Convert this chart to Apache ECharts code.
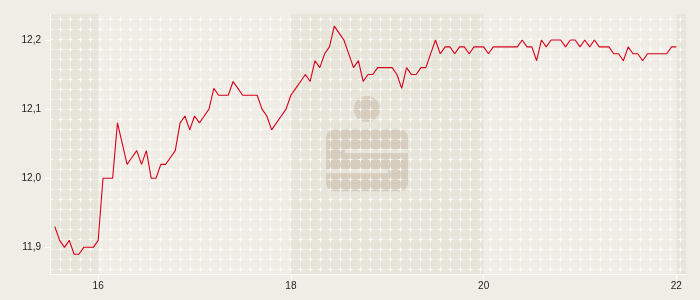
<!DOCTYPE html>
<html><head><meta charset="utf-8">
<script src="https://cdn.jsdelivr.net/npm/echarts@6/dist/echarts.min.js"></script>
<style>html,body{margin:0;padding:0;background:#f0ede6}#c{width:700px;height:300px}</style>
</head><body><div id="c"></div>
<script>
// time axis in hours (3-minute quotes starting 15:33)
const startHour = 15.55;
const stepHours = 0.05;
const prices = [
 11.93,11.91,11.90,11.91,11.89,11.89,11.90,11.90,11.90,11.91,
 12.00,12.00,12.00,12.08,12.05,12.02,12.03,12.04,12.02,12.04,
 12.00,12.00,12.02,12.02,12.03,12.04,12.08,12.09,12.07,12.09,
 12.08,12.09,12.10,12.13,12.12,12.12,12.12,12.14,12.13,12.12,
 12.12,12.12,12.12,12.10,12.09,12.07,12.08,12.09,12.10,12.12,
 12.13,12.14,12.15,12.14,12.17,12.16,12.18,12.19,12.22,12.21,
 12.20,12.18,12.16,12.17,12.14,12.15,12.15,12.16,12.16,12.16,
 12.16,12.15,12.13,12.16,12.15,12.15,12.16,12.16,12.18,12.20,
 12.18,12.19,12.19,12.18,12.19,12.19,12.18,12.19,12.19,12.19,
 12.18,12.19,12.19,12.19,12.19,12.19,12.19,12.20,12.19,12.19,
 12.17,12.20,12.19,12.20,12.20,12.20,12.19,12.20,12.20,12.19,
 12.20,12.19,12.20,12.19,12.19,12.19,12.18,12.18,12.17,12.19,
 12.18,12.18,12.17,12.18,12.18,12.18,12.18,12.18,12.19,12.19
];
const xTicks = [16, 18, 20, 22];
const yTicks = [11.9, 12.0, 12.1, 12.2];
const xRange = [15.5, 22.1];
const yRange = [11.8614, 12.2376];
const shadedBands = [[15.5, 16], [18, 20], [22, 22.1]];

const seriesData = prices.map((p, i) => [startHour + i * stepHours, p]);

const BG = '#f0ede6', BAND = '#e7e4d9', LOGO = '#d6cdbf', RED = '#d6001a';

const chart = echarts.init(document.getElementById('c'), null, {renderer: 'canvas'});
chart.setOption({
  animation: false,
  backgroundColor: BG,
  grid: {left: 50, right: 14, top: 14, bottom: 26, containLabel: false},
  xAxis: {
    type: 'value', min: xRange[0], max: xRange[1], z: 5,
    axisLine: {show: true, lineStyle: {color: '#ffffff', width: 1}},
    axisTick: {show: true, length: 5, lineStyle: {color: '#ffffff'}, customValues: xTicks},
    axisLabel: {customValues: xTicks, color: '#222', fontSize: 10, fontFamily: 'Liberation Sans, Arial, sans-serif', margin: 7,
      formatter: v => String(Math.round(v))},
    splitLine: {show: false}
  },
  yAxis: {
    type: 'value', min: yRange[0], max: yRange[1], z: 5,
    axisLine: {show: true, lineStyle: {color: '#ffffff', width: 1}},
    axisTick: {show: true, length: 5, lineStyle: {color: '#ffffff'}, customValues: yTicks},
    axisLabel: {customValues: yTicks, color: '#222', fontSize: 10, fontFamily: 'Liberation Sans, Arial, sans-serif', margin: 9,
      formatter: v => v.toFixed(1).replace('.', ',')},
    splitLine: {show: false}
  },
  series: [{
    type: 'line', z: 10, data: seriesData, showSymbol: false, symbol: 'none',
    lineStyle: {color: RED, width: 1.1}, itemStyle: {color: RED}
  }]
});

// background decorations
const px = v => chart.convertToPixel({xAxisIndex: 0}, v);
const py = v => chart.convertToPixel({yAxisIndex: 0}, v);
const gx0 = px(xRange[0]), gx1 = px(xRange[1]);
const gy0 = py(yRange[1]), gy1 = py(yRange[0]);

const tile = document.createElement('canvas');
tile.width = 10; tile.height = 10;
const g = tile.getContext('2d');
g.fillStyle = 'rgba(255,255,255,0.2)';
g.fillRect(0, 0, 1, 10);
g.fillRect(1, 9, 9, 1);
const put = (a, b, c) => { g.clearRect(a, b, 1, 1); g.fillStyle = c; g.fillRect(a, b, 1, 1); };
[[9,9],[0,9],[1,9],[0,8],[0,0]].forEach(([a,b]) => put(a, b, 'rgba(255,255,255,0.95)'));
[[8,9],[2,9],[0,7],[0,1]].forEach(([a,b]) => put(a, b, 'rgba(255,255,255,0.55)'));

const elements = [];
shadedBands.forEach(([a, b]) => {
  elements.push({type: 'rect', z: 0, silent: true,
    shape: {x: px(a), y: gy0, width: px(b) - px(a), height: gy1 - gy0},
    style: {fill: BAND}});
});
const cx = (gx0 + gx1) / 2, cy = (gy0 + gy1) / 2;
elements.push({type: 'group', x: cx, y: cy, z: 1, silent: true, children: [
  {type: 'circle', z: 1, shape: {cx: -1.3, cy: -35, r: 13}, style: {fill: LOGO}},
  {type: 'rect', z: 1, shape: {x: -42, y: -14.7, width: 82, height: 62, r: 8}, style: {fill: LOGO}},
  {type: 'rect', z: 1, z2: 5, shape: {x: -23, y: 5.3, width: 64, height: 4}, style: {fill: BAND}},
  {type: 'rect', z: 1, z2: 5, shape: {x: -43, y: 25.3, width: 63, height: 4}, style: {fill: BAND}}
]});
elements.push({type: 'rect', z: 2, silent: true,
  shape: {x: gx0, y: gy0, width: gx1 - gx0, height: gy1 - gy0},
  style: {fill: {image: tile, repeat: 'repeat'}}});

chart.setOption({graphic: {elements: elements}});
</script>
</body></html>
